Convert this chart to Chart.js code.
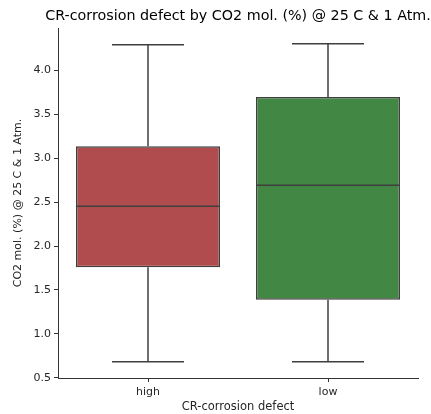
<!DOCTYPE html>
<html>
<head>
<meta charset="utf-8">
<script src="https://cdn.jsdelivr.net/npm/chart.js@4"></script>
<style>
html,body{margin:0;padding:0;background:#fff;}
#wrap{width:431px;height:414px;}
</style>
</head>
<body>
<div id="wrap"><canvas id="c" width="431" height="414"></canvas></div>
<script>
const categories = ["high", "low"];
const whiskerLow = [0.685, 0.685];
const q1 = [1.758, 1.388];
const median = [2.452, 2.69];
const q3 = [3.135, 3.694];
const whiskerHigh = [4.29, 4.30];
const yTicks = [0.5, 1.0, 1.5, 2.0, 2.5, 3.0, 3.5, 4.0];
const boxColors = ["#b14c4e", "#438745"];
const lineColor = "#3f3f3f";
const chartTitle = 'CR-corrosion defect by CO2 mol. (%) @ 25 C & 1 Atm.';

const font = "'DejaVu Sans', sans-serif";

const boxPlugin = {
  id: 'boxparts',
  afterDatasetsDraw(chart) {
    const ctx = chart.ctx;
    const x = chart.scales.x, y = chart.scales.y;
    const meta = chart.getDatasetMeta(0);
    ctx.save();
    ctx.strokeStyle = lineColor;
    ctx.lineWidth = 1.5;
    ctx.lineCap = 'butt';
    categories.forEach((c, i) => {
      const bar = meta.data[i];
      const cx = x.getPixelForValue(i);
      const hw = bar.width / 2;
      const capw = hw / 2;
      const pMed = y.getPixelForValue(median[i]);
      const pQ1 = y.getPixelForValue(q1[i]);
      const pQ3 = y.getPixelForValue(q3[i]);
      const pLo = y.getPixelForValue(whiskerLow[i]);
      const pHi = y.getPixelForValue(whiskerHigh[i]);
      ctx.beginPath();
      ctx.moveTo(cx - hw, pMed); ctx.lineTo(cx + hw, pMed);
      ctx.moveTo(cx, pQ3); ctx.lineTo(cx, pHi);
      ctx.moveTo(cx - capw, pHi); ctx.lineTo(cx + capw, pHi);
      ctx.moveTo(cx, pQ1); ctx.lineTo(cx, pLo);
      ctx.moveTo(cx - capw, pLo); ctx.lineTo(cx + capw, pLo);
      ctx.stroke();
    });
    ctx.restore();
  },
  afterDraw(chart) {
    const ctx = chart.ctx;
    const a = chart.chartArea;
    ctx.save();
    ctx.fillStyle = '#000';
    ctx.font = "14.3px " + font;
    ctx.textAlign = 'center';
    ctx.textBaseline = 'middle';
    ctx.fillText(chartTitle, (a.left + a.right) / 2, 16);
    ctx.restore();
  }
};

Chart.defaults.font.family = font;
Chart.defaults.color = '#262626';

new Chart(document.getElementById('c'), {
  type: 'bar',
  data: {
    labels: categories,
    datasets: [{
      data: categories.map((c, i) => [q1[i], q3[i]]),
      backgroundColor: boxColors,
      borderColor: lineColor,
      borderWidth: 1.5,
      borderSkipped: false,
      barPercentage: 0.8,
      categoryPercentage: 1.0
    }]
  },
  options: {
    responsive: false,
    animation: false,
    devicePixelRatio: 1,
    layout: { padding: { left: 0, right: 13, top: 28, bottom: 0 } },
    plugins: {
      legend: { display: false },
      tooltip: { enabled: false },
      title: { display: false }
    },
    scales: {
      x: {
        offset: true,
        grid: { display: true, offset: false, drawOnChartArea: false, drawTicks: true, tickLength: 4, color: '#333' },
        border: { display: true, color: '#333', width: 1 },
        ticks: { font: { size: 11 }, color: '#262626', padding: 4 },
        title: { display: true, text: 'CR-corrosion defect', font: { size: 11.5 }, color: '#262626', padding: { top: 0, bottom: 0 } },
        afterFit(s) { s.height = 36; }
      },
      y: {
        min: 0.499,
        max: 4.48,
        afterBuildTicks(s) { s.ticks = yTicks.map(v => ({ value: v })); },
        grid: { display: true, drawOnChartArea: false, drawTicks: true, tickLength: 4, color: '#333' },
        border: { display: true, color: '#333', width: 1 },
        ticks: { font: { size: 11 }, color: '#262626', padding: 3, callback: v => Number(v).toFixed(1) },
        title: { display: true, text: 'CO2 mol. (%) @ 25 C & 1 Atm.', font: { size: 11 }, color: '#262626', padding: { top: 12, bottom: 0 } },
        afterFit(s) { s.width = 58; }
      }
    }
  },
  plugins: [boxPlugin]
});
</script>
</body>
</html>
